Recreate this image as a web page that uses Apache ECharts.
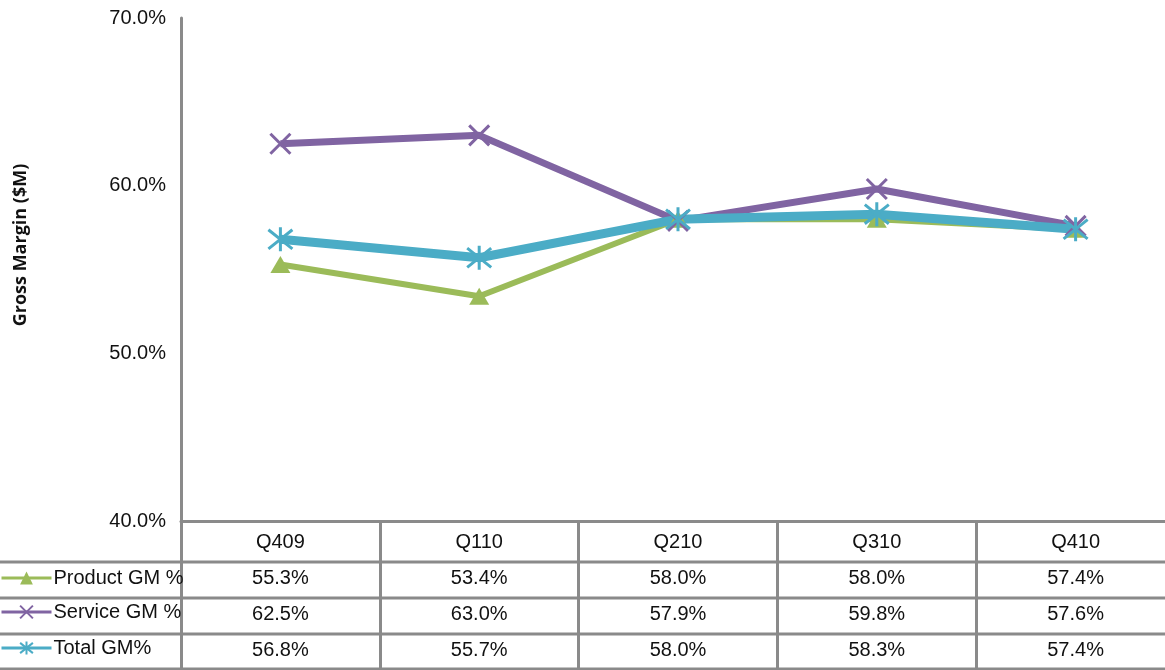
<!DOCTYPE html>
<html>
<head>
<meta charset="utf-8">
<script src="https://cdn.jsdelivr.net/npm/echarts@6/dist/echarts.min.js"></script>
<style>
  html, body { margin: 0; padding: 0; background: #fff; }
  #chart { width: 1165px; height: 670px; }
</style>
</head>
<body>
<div id="chart"></div>
<script>
// quarters and gross margin % per series
var quarters = ['Q409', 'Q110', 'Q210', 'Q310', 'Q410'];
var productGM = [55.3, 53.4, 58.0, 58.0, 57.4];
var serviceGM = [62.5, 63.0, 57.9, 59.8, 57.6];
var totalGM = [56.8, 55.7, 58.0, 58.3, 57.4];
var seriesNames = ['Product GM %', 'Service GM %', 'Total GM%'];
var yTicks = [40, 50, 60, 70];

var FONT = '"Liberation Sans", Arial, sans-serif';
var GRAY = '#8a8a8a';
var colors = ['#9bbb59', '#8064a2', '#4bacc6'];

var xSymbol = 'path://M0 0L10 10M10 0L0 10';
var starSymbol = 'path://M0 1L10 9M10 1L0 9M5 0L5 10';

var chart = echarts.init(document.getElementById('chart'));

function pct(v) {
  return v.toFixed(1) + '%';
}

// rows of the data table under the axis, one legend per row
var rowCenters = [578, 612, 648];
var legends = seriesNames.map(function (n, i) {
  return {
    data: [n],
    orient: 'vertical',
    left: 0,
    top: rowCenters[i] - 10,
    padding: 0,
    itemWidth: 50,
    itemHeight: 16,
    itemGap: 0,
    selectedMode: false,
    lineStyle: { width: 3 },
    textStyle: { fontFamily: FONT, fontSize: 20, color: '#111', lineHeight: 20, padding: [0, 0, 0, -3] }
  };
});

var option = {
  backgroundColor: '#fff',
  animation: false,
  color: colors,
  legend: legends,
  grid: { left: 181, top: 18, width: 994, height: 503, containLabel: false, outerBoundsMode: 'none' },
  xAxis: {
    type: 'category',
    data: quarters,
    boundaryGap: true,
    axisLine: { lineStyle: { color: GRAY, width: 3 } },
    axisTick: { show: true, length: 148, lineStyle: { color: GRAY, width: 3 } },
    axisLabel: {
      margin: 3,
      interval: 0,
      fontFamily: FONT,
      fontSize: 20,
      color: '#111',
      lineHeight: 36,
      formatter: function (v, i) {
        return [v, pct(productGM[i]), pct(serviceGM[i]), pct(totalGM[i])].join('\n');
      }
    },
    splitLine: { show: false }
  },
  yAxis: {
    type: 'value',
    min: yTicks[0],
    max: yTicks[yTicks.length - 1],
    interval: 10,
    axisLine: { show: true, lineStyle: { color: GRAY, width: 3 } },
    axisTick: { show: false },
    splitLine: { show: false },
    axisLabel: {
      margin: 15,
      fontFamily: FONT,
      fontSize: 20,
      color: '#111',
      formatter: function (v) { return pct(v); }
    }
  },
  graphic: [
    {
      type: 'text',
      x: 21, y: 245,
      rotation: Math.PI / 2,
      style: {
        text: 'Gross Margin ($M)',
        font: 'bold 18px "Open Sans", sans-serif',
        fill: '#111',
        align: 'center',
        verticalAlign: 'middle'
      }
    },
    { type: 'line', shape: { x1: 0, y1: 562, x2: 1165, y2: 562 }, style: { stroke: GRAY, lineWidth: 3 } },
    { type: 'line', shape: { x1: 0, y1: 598, x2: 1165, y2: 598 }, style: { stroke: GRAY, lineWidth: 3 } },
    { type: 'line', shape: { x1: 0, y1: 634, x2: 1165, y2: 634 }, style: { stroke: GRAY, lineWidth: 3 } },
    { type: 'line', shape: { x1: 0, y1: 669, x2: 1165, y2: 669 }, style: { stroke: GRAY, lineWidth: 3 } }
  ],
  series: [
    {
      name: seriesNames[0],
      type: 'line',
      data: productGM,
      symbol: 'triangle',
      symbolSize: [20, 17],
      lineStyle: { color: colors[0], width: 6 },
      itemStyle: { color: colors[0] }
    },
    {
      name: seriesNames[1],
      type: 'line',
      data: serviceGM,
      symbol: xSymbol,
      symbolSize: 20,
      lineStyle: { color: colors[1], width: 7 },
      itemStyle: { color: colors[1], borderColor: colors[1], borderWidth: 3 }
    },
    {
      name: seriesNames[2],
      type: 'line',
      data: totalGM,
      symbol: starSymbol,
      symbolSize: 24,
      lineStyle: { color: colors[2], width: 9 },
      itemStyle: { color: colors[2], borderColor: colors[2], borderWidth: 3 }
    }
  ]
};

chart.setOption(option);
</script>
</body>
</html>
